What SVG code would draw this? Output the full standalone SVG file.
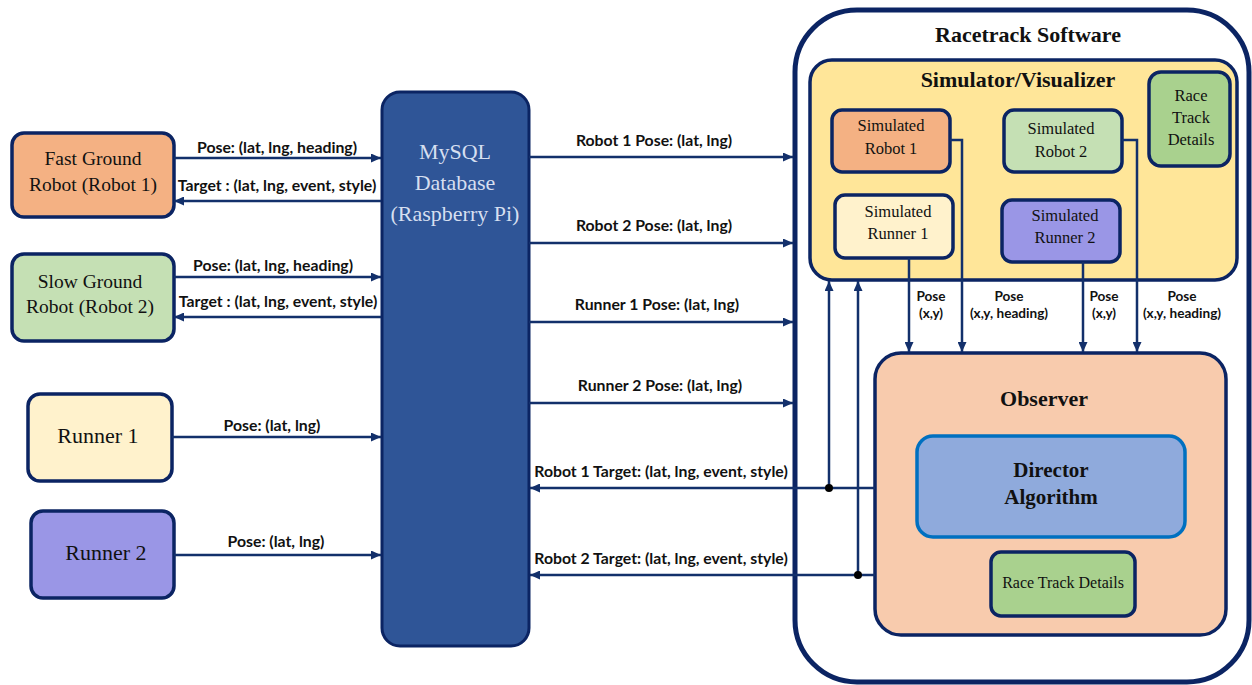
<svg xmlns="http://www.w3.org/2000/svg" width="1252" height="685" viewBox="0 0 1252 685">
  <style>
    .box { stroke: #0B2463; stroke-width: 3.5; }
    .serif { font-family: "Liberation Serif", "Times New Roman", serif; fill: #111; text-anchor: middle; }
    .title { font-weight: bold; font-size: 22px; }
    .lbl { font-family: Lato, "Open Sans", "Liberation Sans", sans-serif; font-weight: bold; font-size: 15.8px; fill: #111; text-anchor: middle; }
    .small { font-size: 13.6px; }
    .wire { stroke: #13306B; stroke-width: 2.5; fill: none; }
    .arrow { marker-end: url(#head); }
  </style>
  <defs>
    <marker id="head" markerUnits="userSpaceOnUse" markerWidth="10" markerHeight="9" refX="10" refY="4.5" orient="auto">
      <path d="M0,0 L10,4.5 L0,9 z" fill="#13306B"/>
    </marker>
  </defs>

  <rect width="1252" height="685" fill="#ffffff"/>

  <!-- Racetrack Software container -->
  <g id="racetrack-software">
    <rect x="795" y="10" width="454" height="672" rx="62" fill="#ffffff" stroke="#0B2463" stroke-width="5"/>
    <text class="serif title" x="1028" y="42">Racetrack Software</text>
  </g>

  <!-- Simulator / Visualizer -->
  <g id="simulator">
    <rect class="box" x="810" y="60" width="427" height="220" rx="22" fill="#FFE699"/>
    <text class="serif title" x="1018" y="87">Simulator/Visualizer</text>
  </g>
  <g id="sim-robot-1">
    <rect class="box" x="832" y="110" width="118" height="62" rx="10" fill="#F4B183"/>
    <text class="serif" font-size="16.5" x="891" y="131">Simulated</text>
    <text class="serif" font-size="16.5" x="891" y="154">Robot 1</text>
  </g>
  <g id="sim-robot-2">
    <rect class="box" x="1004" y="110" width="118" height="62" rx="10" fill="#C5E0B4"/>
    <text class="serif" font-size="16.5" x="1061" y="134">Simulated</text>
    <text class="serif" font-size="16.5" x="1061" y="157">Robot 2</text>
  </g>
  <g id="sim-track-details">
    <rect class="box" x="1149" y="72" width="81" height="94" rx="12" fill="#A9D18E"/>
    <text class="serif" font-size="16.5" x="1191" y="101">Race</text>
    <text class="serif" font-size="16.5" x="1191" y="123">Track</text>
    <text class="serif" font-size="16.5" x="1191" y="145">Details</text>
  </g>
  <g id="sim-runner-1">
    <rect class="box" x="835" y="195" width="118" height="63" rx="10" fill="#FFF2CC"/>
    <text class="serif" font-size="16.5" x="898" y="217">Simulated</text>
    <text class="serif" font-size="16.5" x="898" y="239">Runner 1</text>
  </g>
  <g id="sim-runner-2">
    <rect class="box" x="1002" y="200" width="118" height="62" rx="10" fill="#9A96E6"/>
    <text class="serif" font-size="16.5" x="1065" y="221">Simulated</text>
    <text class="serif" font-size="16.5" x="1065" y="243">Runner 2</text>
  </g>

  <!-- Observer -->
  <g id="observer">
    <rect class="box" x="875" y="353" width="351" height="282" rx="26" fill="#F8CBAD"/>
    <text class="serif title" font-size="23" x="1044" y="406">Observer</text>
  </g>
  <g id="director">
    <rect x="917" y="436" width="268" height="101" rx="16" fill="#8FAADC" stroke="#0070C0" stroke-width="3.5"/>
    <text class="serif" font-size="21" font-weight="bold" x="1051" y="477">Director</text>
    <text class="serif" font-size="21" font-weight="bold" x="1051" y="504">Algorithm</text>
  </g>
  <g id="obs-track-details">
    <rect class="box" x="991" y="552" width="144" height="64" rx="10" fill="#A9D18E"/>
    <text class="serif" font-size="16" x="1063" y="588">Race Track Details</text>
  </g>

  <!-- Physical agents -->
  <g id="fast-robot">
    <rect class="box" x="12" y="133" width="162" height="84" rx="12" fill="#F4B183"/>
    <text class="serif" font-size="19.5" x="93" y="165">Fast Ground</text>
    <text class="serif" font-size="19.5" x="93" y="191">Robot (Robot 1)</text>
  </g>
  <g id="slow-robot">
    <rect class="box" x="12" y="254" width="162" height="87" rx="12" fill="#C5E0B4"/>
    <text class="serif" font-size="19.5" x="90" y="288">Slow Ground</text>
    <text class="serif" font-size="19.5" x="90" y="313">Robot (Robot 2)</text>
  </g>
  <g id="runner-1">
    <rect class="box" x="28" y="394" width="144" height="87" rx="12" fill="#FFF2CC"/>
    <text class="serif" font-size="22" x="98" y="443">Runner 1</text>
  </g>
  <g id="runner-2">
    <rect class="box" x="31" y="511" width="143" height="87" rx="12" fill="#9A96E6"/>
    <text class="serif" font-size="22" x="106" y="560">Runner 2</text>
  </g>

  <!-- Database -->
  <g id="database">
    <rect x="382" y="92" width="147" height="554" rx="18" fill="#2F5597" stroke="#0B2463" stroke-width="3"/>
    <text class="serif" font-size="22" style="fill:#D6DFF0" x="455" y="159">MySQL</text>
    <text class="serif" font-size="22" style="fill:#D6DFF0" x="455" y="190">Database</text>
    <text class="serif" font-size="22" style="fill:#D6DFF0" x="455" y="221">(Raspberry Pi)</text>
  </g>

  <!-- Connectors -->
  <g id="connectors">
    <!-- agents to database -->
    <line class="wire arrow" x1="174" y1="158" x2="381" y2="158"/>
    <line class="wire arrow" x1="381" y1="201" x2="174" y2="201"/>
    <line class="wire arrow" x1="174" y1="277" x2="381" y2="277"/>
    <line class="wire arrow" x1="381" y1="317" x2="174" y2="317"/>
    <line class="wire arrow" x1="172" y1="437" x2="381" y2="437"/>
    <line class="wire arrow" x1="174" y1="555" x2="381" y2="555"/>

    <!-- database to racetrack software -->
    <line class="wire arrow" x1="529" y1="157" x2="793" y2="157"/>
    <line class="wire arrow" x1="529" y1="243" x2="793" y2="243"/>
    <line class="wire arrow" x1="529" y1="322" x2="793" y2="322"/>
    <line class="wire arrow" x1="529" y1="403" x2="793" y2="403"/>

    <!-- targets back to database -->
    <line class="wire arrow" x1="875" y1="488" x2="530" y2="488"/>
    <line class="wire arrow" x1="875" y1="575" x2="530" y2="575"/>

    <!-- targets fed to simulator -->
    <line class="wire arrow" x1="829" y1="488" x2="829" y2="281"/>
    <line class="wire arrow" x1="858" y1="575" x2="858" y2="281"/>
    <circle cx="829" cy="488" r="4" fill="#000"/>
    <circle cx="858" cy="575" r="4" fill="#000"/>

    <!-- simulator poses to observer -->
    <line class="wire arrow" x1="909" y1="258" x2="909" y2="352"/>
    <polyline class="wire arrow" points="950,140 962,140 962,352"/>
    <line class="wire arrow" x1="1083" y1="262" x2="1083" y2="352"/>
    <polyline class="wire arrow" points="1122,140 1137,140 1137,352"/>

    <!-- labels -->
    <text class="lbl" x="277" y="153">Pose: (lat, lng, heading)</text>
    <text class="lbl" x="277" y="191">Target : (lat, lng, event, style)</text>
    <text class="lbl" x="273" y="271">Pose: (lat, lng, heading)</text>
    <text class="lbl" x="278" y="307">Target : (lat, lng, event, style)</text>
    <text class="lbl" x="272" y="431">Pose: (lat, lng)</text>
    <text class="lbl" x="276" y="547">Pose: (lat, lng)</text>

    <text class="lbl" x="654" y="146">Robot 1 Pose: (lat, lng)</text>
    <text class="lbl" x="654" y="231">Robot 2 Pose: (lat, lng)</text>
    <text class="lbl" x="657" y="310">Runner 1 Pose: (lat, lng)</text>
    <text class="lbl" x="660" y="391">Runner 2 Pose: (lat, lng)</text>
    <text class="lbl" x="661" y="477">Robot 1 Target: (lat, lng, event, style)</text>
    <text class="lbl" x="661" y="564">Robot 2 Target: (lat, lng, event, style)</text>

    <text class="lbl small" x="931" y="301">Pose</text>
    <text class="lbl small" x="931" y="318">(x,y)</text>
    <text class="lbl small" x="1009" y="301">Pose</text>
    <text class="lbl small" x="1009" y="318">(x,y, heading)</text>
    <text class="lbl small" x="1104" y="301">Pose</text>
    <text class="lbl small" x="1104" y="318">(x,y)</text>
    <text class="lbl small" x="1182" y="301">Pose</text>
    <text class="lbl small" x="1182" y="318">(x,y, heading)</text>
  </g>
</svg>
